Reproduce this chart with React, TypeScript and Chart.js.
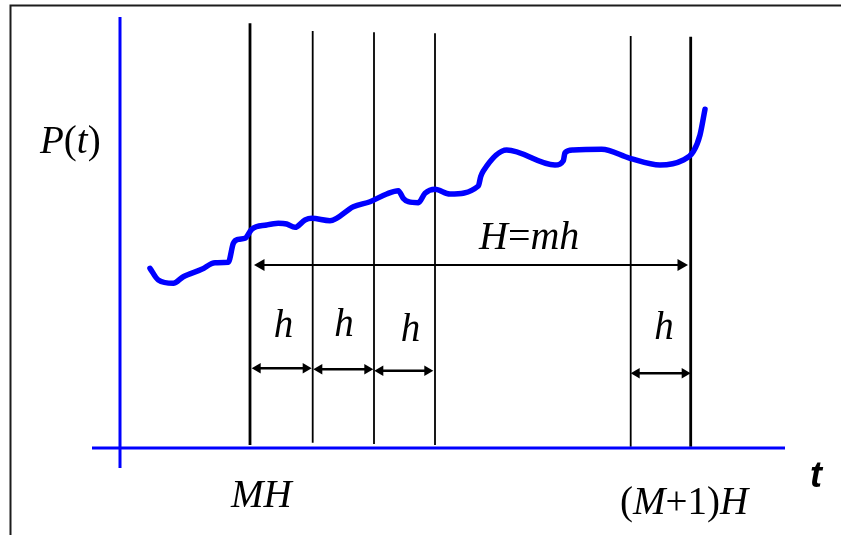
import React, { useEffect, useRef } from "react";
import { Chart, registerables } from "chart.js";

Chart.register(...registerables);

// Diagram coordinates: t to the right from the P axis, P upward from the t axis.
const T_MIN = -120;
const T_MAX = 721;
const P_MIN = -87;
const P_MAX = 448;

// Sample path P(t)
const CURVE_T = [30, 38.3, 53.3, 63.3, 81.7, 95, 108.3, 113.3, 118.3, 125, 131.7, 146.7, 158.3, 166.7, 175, 185, 191.7, 210, 233.3, 250, 266.7, 278.3, 283.3, 288.3, 298.3, 305, 315, 330, 358.3, 360.7, 363.3, 386.7, 435, 443.3, 445, 453.3, 481.7, 510, 540, 563.3, 573.3, 580, 585];
const CURVE_P = [179.7, 168, 164.7, 171.3, 178.7, 185.3, 185.7, 204.7, 208.7, 209.7, 218.7, 223, 224.7, 224, 220.7, 228, 229.7, 227.3, 241.3, 246.3, 254, 257.3, 249.7, 246.3, 245.3, 254.7, 258.7, 254, 262, 271.3, 277, 298, 283, 287.3, 295.3, 298, 298.7, 289.7, 283, 288, 296.3, 313, 338.7];

// Vertical division lines (MH, MH+h, MH+2h, MH+3h, (M+1)H-h, (M+1)H)
const GRID_T = [130, 192.7, 254, 315, 510.7, 570.7];
const GRID_TOP = [424.7, 417, 415.7, 414.7, 412, 411.3];
const GRID_BOTTOM = [3, 5.3, 4, 3, 1.3, 1.3];
const GRID_MAJOR = [true, false, false, false, false, true];

// Axes
const T_AXIS_T = [-28, 665];
const P_AXIS_P = [-20, 431];

// Frame (top and left edges)
const FRAME_T = [721, -109.5, -109.5];
const FRAME_P = [442.5, 442.5, P_MIN];

// H = mh span arrow
const SPAN_T = [134, 568];
const SPAN_P = 183;

// h arrows: left tip, right tip, level
const H_ARROW_LEFT = [131.7, 193.3, 254.3, 510.7];
const H_ARROW_RIGHT = [191.7, 253.3, 313.3, 570.7];
const H_ARROW_P = [79.7, 78.7, 77.3, 74.7];

// h labels (centre, baseline)
const H_LABEL_T = [163.5, 224, 290.5, 544];
const H_LABEL_P = [111.3, 112.5, 107, 108.7];

type Part = { s: string; italic: boolean };
type Label = { parts: Part[]; t: number; p: number; align: "left" | "center"; family: string; size: number; bold?: boolean };

const LABELS: Label[] = [
  { parts: [{ s: "P", italic: true }, { s: "(", italic: false }, { s: "t", italic: true }, { s: ")", italic: false }], t: -80, p: 294.7, align: "left", family: "Liberation Serif", size: 39 },
  { parts: [{ s: "H", italic: true }, { s: "=", italic: false }, { s: "mh", italic: true }], t: 359, p: 199, align: "left", family: "Liberation Serif", size: 40 },
  { parts: [{ s: "MH", italic: true }], t: 111, p: -59.3, align: "left", family: "Liberation Serif", size: 39 },
  { parts: [{ s: "(", italic: false }, { s: "M", italic: true }, { s: "+1)", italic: false }, { s: "H", italic: true }], t: 500, p: -66, align: "left", family: "Liberation Serif", size: 39 },
  { parts: [{ s: "t", italic: true }], t: 690, p: -39, align: "left", family: "Liberation Sans", size: 36, bold: true },
  ...H_LABEL_T.map((t, i) => ({ parts: [{ s: "h", italic: true }], t, p: H_LABEL_P[i], align: "center" as const, family: "Liberation Serif", size: 39 })),
];

const BLUE = "#0000ff";
const INK = "#000000";

function lineDataset(ts: number[], ps: number[], color: string, width: number) {
  return {
    data: ts.map((t, i) => ({ x: t, y: ps[i] })),
    showLine: true,
    borderColor: color,
    borderWidth: width,
    pointRadius: 0,
    pointHoverRadius: 0,
    fill: false,
    clip: false as const,
  };
}

function arrowDataset(leftTip: number, rightTip: number, p: number, head: number, width: number) {
  return {
    data: [{ x: leftTip + head, y: p }, { x: rightTip - head, y: p }],
    showLine: true,
    borderColor: INK,
    borderWidth: width,
    pointStyle: "triangle" as const,
    pointRadius: head,
    pointHoverRadius: head,
    pointRotation: [270, 90],
    pointBackgroundColor: INK,
    pointBorderColor: INK,
    pointBorderWidth: 0,
    fill: false,
    clip: false as const,
  };
}

const labelPlugin = {
  id: "diagramLabels",
  afterDatasetsDraw(chart: any) {
    const ctx: CanvasRenderingContext2D = chart.ctx;
    const xs = chart.scales.x;
    const ys = chart.scales.y;
    ctx.save();
    ctx.fillStyle = INK;
    ctx.textBaseline = "alphabetic";
    ctx.textAlign = "left";
    for (const lab of LABELS) {
      const font = (it: boolean) => `${it ? "italic " : ""}${lab.bold ? "bold " : ""}${lab.size}px "${lab.family}"`;
      let total = 0;
      const widths = lab.parts.map((pt) => {
        ctx.font = font(pt.italic);
        const w = ctx.measureText(pt.s).width;
        total += w;
        return w;
      });
      let x = xs.getPixelForValue(lab.t);
      if (lab.align === "center") x -= total / 2;
      const y = ys.getPixelForValue(lab.p);
      lab.parts.forEach((pt, i) => {
        ctx.font = font(pt.italic);
        ctx.fillText(pt.s, x, y);
        x += widths[i];
      });
    }
    ctx.restore();
  },
};

export default function App() {
  const ref = useRef<HTMLCanvasElement>(null);

  useEffect(() => {
    if (!ref.current) return;
    const datasets: any[] = [];
    const curve = lineDataset(CURVE_T, CURVE_P, BLUE, 5.5) as any;
    curve.cubicInterpolationMode = "monotone";
    curve.borderJoinStyle = "round";
    curve.borderCapStyle = "round";
    datasets.push(curve);
    datasets.push(lineDataset(T_AXIS_T, [0, 0], BLUE, 3.2));
    datasets.push(lineDataset([0, 0], P_AXIS_P, BLUE, 3));
    GRID_T.forEach((t, i) => {
      datasets.push(lineDataset([t, t], [GRID_TOP[i], GRID_BOTTOM[i]], INK, GRID_MAJOR[i] ? 2.8 : 1.8));
    });
    datasets.push(arrowDataset(SPAN_T[0], SPAN_T[1], SPAN_P, 7, 2));
    H_ARROW_LEFT.forEach((l, i) => {
      datasets.push(arrowDataset(l, H_ARROW_RIGHT[i], H_ARROW_P[i], 6, 2.6));
    });
    datasets.push(lineDataset(FRAME_T, FRAME_P, "#1c1c1c", 2));

    const chart = new Chart(ref.current, {
      type: "scatter",
      data: { datasets },
      options: {
        animation: false,
        responsive: false,
        devicePixelRatio: 1,
        layout: { padding: 0, autoPadding: false },
        events: [],
        plugins: { legend: { display: false }, tooltip: { enabled: false }, title: { display: false } },
        scales: {
          x: { type: "linear", min: T_MIN, max: T_MAX, display: false },
          y: { type: "linear", min: P_MIN, max: P_MAX, display: false },
        },
      },
      plugins: [labelPlugin],
    });
    return () => chart.destroy();
  }, []);

  return (
    <div style={{ position: "absolute", left: 0, top: 0, width: 841, height: 535, background: "#fff" }}>
      <canvas ref={ref} width={841} height={535} style={{ display: "block", width: 841, height: 535 }} />
    </div>
  );
}
